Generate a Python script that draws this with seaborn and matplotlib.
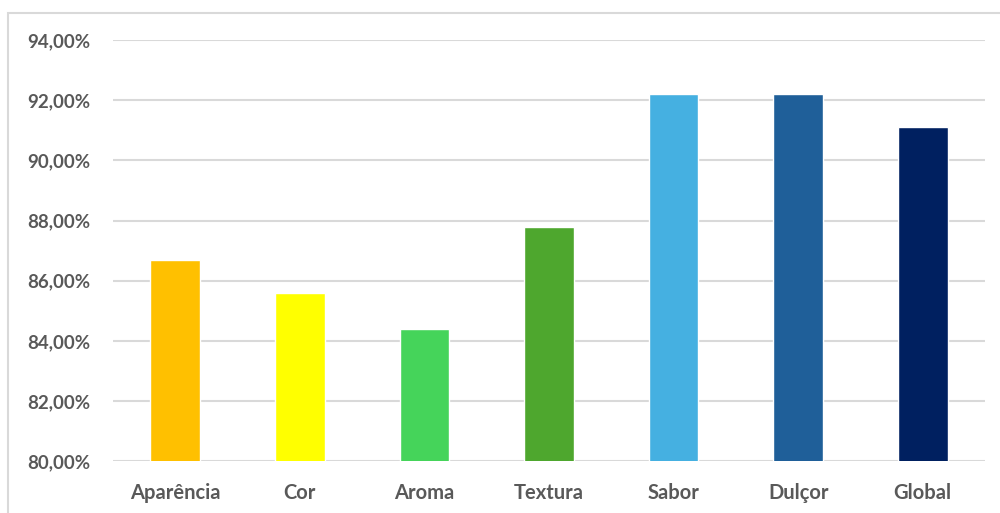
import matplotlib
matplotlib.use('Agg')
import matplotlib.pyplot as plt
import seaborn as sns
import pandas as pd
from matplotlib.patches import Rectangle
from matplotlib.ticker import FuncFormatter

# dados
categorias = ['Aparência', 'Cor', 'Aroma', 'Textura', 'Sabor', 'Dulçor', 'Global']
valores = [86.7, 85.6, 84.4, 87.8, 92.2, 92.2, 91.1]
cores = ['#FFC000', '#FFFF00', '#45D45A', '#4EA72E', '#45B0E1', '#1F5F99', '#002060']

df = pd.DataFrame({'categoria': categorias, 'valor': valores})

sns.set_style('white')
plt.rcParams['font.family'] = ['Lato', 'DejaVu Sans']

fig = plt.figure(figsize=(10, 5.13), dpi=100)
ax = fig.add_axes([0.113, 0.101, 0.872, 0.821])

sns.barplot(data=df, x='categoria', y='valor', hue='categoria', palette=cores,
            width=0.4, saturation=1, legend=False, ax=ax, zorder=3)

ax.set_ylim(80, 94)
ax.set_yticks(range(80, 95, 2))
ax.yaxis.set_major_formatter(FuncFormatter(lambda v, p: f'{v:.2f}%'.replace('.', ',')))
ax.grid(axis='y', color='#D9D9D9', linewidth=1.5, zorder=0)
ax.set_axisbelow(True)
for s in ax.spines.values():
    s.set_visible(False)
ax.tick_params(axis='both', length=0, labelcolor='#595959')
ax.tick_params(axis='y', pad=16, labelsize=13.5)
ax.tick_params(axis='x', pad=16, labelsize=14.5)
for lbl in ax.get_xticklabels() + ax.get_yticklabels():
    lbl.set_fontweight('bold')
ax.set_xlabel('')
ax.set_ylabel('')

# borda do gráfico
fig.patches.append(Rectangle((0.008, -0.05), 1.1, 1.025, transform=fig.transFigure,
                             fill=False, edgecolor='#D9D9D9', linewidth=1.5))

fig.savefig('out.png', dpi=100, facecolor='white')
